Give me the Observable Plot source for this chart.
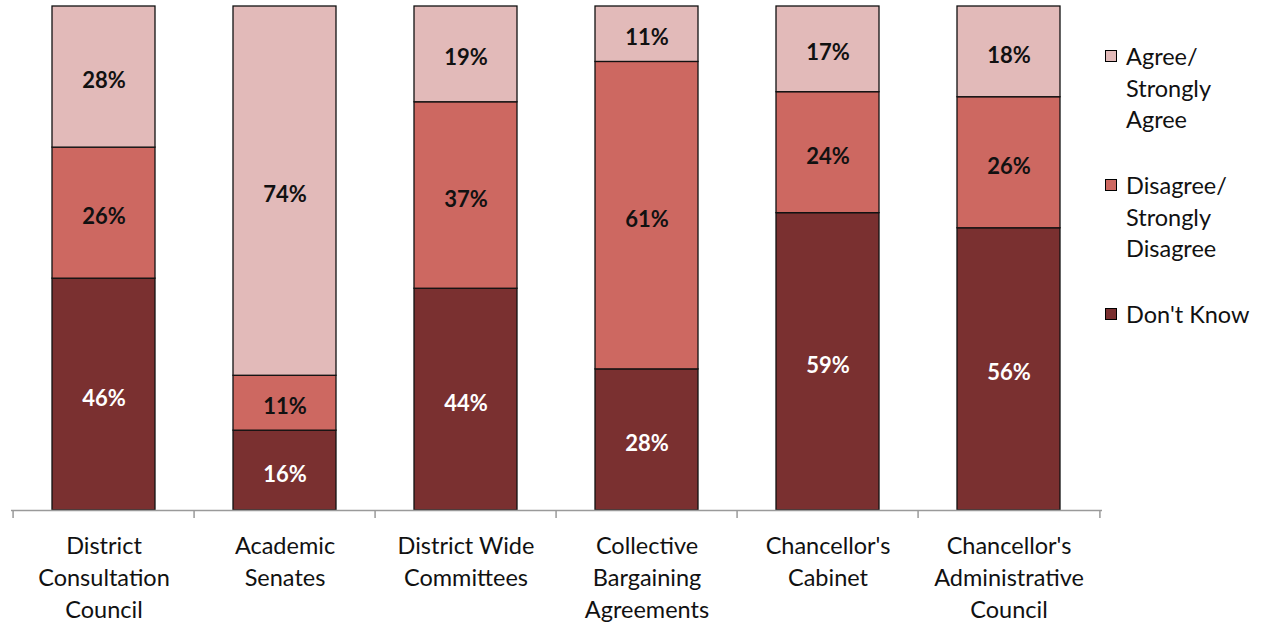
<!DOCTYPE html>
<html><head><meta charset="utf-8">
<script src="https://cdn.jsdelivr.net/npm/d3@7"></script>
<script src="https://cdn.jsdelivr.net/npm/@observablehq/plot@0.6"></script>
<style>
body{margin:0;background:#fff;font-family:Lato,"Open Sans",sans-serif}
#wrap{position:relative;width:1262px;height:625px;overflow:hidden}
.item{position:absolute;left:1105px;font-size:23.5px;line-height:31.5px;color:#111}
.sw{position:absolute;left:0;top:9px;width:10px;height:10px;border:1px solid #000}
.lab{position:absolute;left:21px;top:0;white-space:nowrap}
</style></head><body>
<div id="wrap"><div id="chart"></div><div id="legend"></div></div>
<script>
const categories = ["District Consultation Council","Academic Senates","District Wide Committees","Collective Bargaining Agreements","Chancellor's Cabinet","Chancellor's Administrative Council"];
const tickLabels = ["District\nConsultation\nCouncil","Academic\nSenates","District Wide\nCommittees","Collective\nBargaining\nAgreements","Chancellor's\nCabinet","Chancellor's\nAdministrative\nCouncil"];
const seriesNames = ["Don't Know","Disagree/ Strongly Disagree","Agree/ Strongly Agree"];
const legendLabels = ["Agree/\nStrongly\nAgree","Disagree/\nStrongly\nDisagree","Don't Know"];
const dontKnow = [46,16,44,28,59,56];
const disagree = [26,11,37,61,24,26];
const agree    = [28,74,19,11,17,18];
const colors = ["#7A3030","#CD6861","#E2BAB9"];
const labelColors = ["#fff","#111","#111"];

const series = [dontKnow, disagree, agree];
const data = [];
series.forEach((vals, s) => vals.forEach((v, i) => data.push({cat: categories[i], series: seriesNames[s], value: v})));

const W = 1262, H = 625, mL = 11, mR = 160, mT = 6, mB = 115;
const step = (W - mL - mR) / categories.length;
const plotH = H - mT - mB;
const tickMap = new Map(categories.map((c, i) => [c, tickLabels[i]]));
const stackOpts = {x: "cat", y: "value", z: "series", order: seriesNames, offset: "normalize"};

const chart = Plot.plot({
  width: W, height: H,
  marginLeft: mL, marginRight: mR, marginTop: mT, marginBottom: mB,
  style: {fontFamily: "Lato, 'Open Sans', sans-serif", background: "#fff"},
  x: {domain: categories, paddingInner: 0.43, paddingOuter: 0.215, axis: null},
  y: {domain: [0, 1], axis: null},
  color: {domain: seriesNames, range: colors},
  marks: [
    Plot.barY(data, Plot.stackY({...stackOpts, fill: "series", stroke: "#111", strokeWidth: 1.3})),
    Plot.ruleY([0], {stroke: "#9a9a9a", strokeWidth: 1.5}),
    Plot.ruleX(categories, {x: d => d, dx: -step / 2, stroke: "#9a9a9a", strokeWidth: 1.5, insetTop: plotH, insetBottom: -8}),
    Plot.ruleX(categories.slice(-1), {x: d => d, dx: step / 2, stroke: "#9a9a9a", strokeWidth: 1.5, insetTop: plotH, insetBottom: -8}),
    Plot.text(data, Plot.stackY({...stackOpts, text: d => d.value + "%", fill: d => labelColors[seriesNames.indexOf(d.series)], fontSize: 22, fontWeight: "bold", dy: 4})),
    Plot.axisX({domain: categories, tickSize: 0, tickPadding: 21, lineAnchor: "top", lineHeight: 1.36, fontSize: 23.5, fill: "#111", tickFormat: d => tickMap.get(d), label: null})
  ]
});
document.getElementById("chart").append(chart);

const legend = document.getElementById("legend");
const tops = [41, 170, 299];
legendLabels.forEach((lab, i) => {
  const s = seriesNames.length - 1 - i;
  const item = document.createElement("div");
  item.className = "item";
  item.style.top = tops[i] + "px";
  const sw = document.createElement("div");
  sw.className = "sw";
  sw.style.background = colors[s];
  const t = document.createElement("div");
  t.className = "lab";
  t.innerHTML = lab.split("\n").join("<br>");
  item.append(sw, t);
  legend.append(item);
});
</script>
</body></html>
